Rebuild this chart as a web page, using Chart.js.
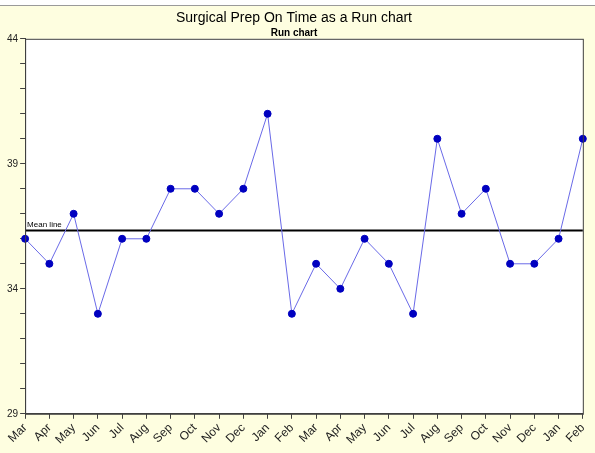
<!DOCTYPE html>
<html>
<head>
<meta charset="utf-8">
<script src="https://cdn.jsdelivr.net/npm/chart.js@4/dist/chart.umd.min.js"></script>
<style>
  html, body { margin: 0; padding: 0; background: #fff; }
  #wrap { width: 595px; height: 453px; }
</style>
</head>
<body>
<div id="wrap"><canvas id="runChart" width="595" height="453"></canvas></div>
<script>
const months = ['Mar', 'Apr', 'May', 'Jun', 'Jul', 'Aug', 'Sep', 'Oct', 'Nov', 'Dec', 'Jan', 'Feb',
  'Mar', 'Apr', 'May', 'Jun', 'Jul', 'Aug', 'Sep', 'Oct', 'Nov', 'Dec', 'Jan', 'Feb'];
const onTime = [36, 35, 37, 33, 36, 36, 38, 38, 37, 38, 41, 33,
  35, 34, 36, 35, 33, 40, 37, 38, 35, 35, 36, 40];
const yLabels = [29, 34, 39, 44];

const mean = onTime.reduce((a, b) => a + b, 0) / onTime.length;
const meanLine = onTime.map(() => mean);

// yellow page background, white plot area, grey frame
const frame = {
  id: 'frame',
  beforeDraw(chart) {
    const { ctx, chartArea: a, width, height } = chart;
    ctx.save();
    ctx.fillStyle = '#ffffff';
    ctx.fillRect(0, 0, width, 5);
    ctx.fillStyle = '#fefee0';
    ctx.fillRect(0, 6, width, height - 6);
    ctx.fillStyle = '#9a9a9a';
    ctx.fillRect(0, 5, width, 1);
    ctx.fillStyle = '#ffffff';
    ctx.fillRect(a.left, a.top, a.right - a.left, a.bottom - a.top);
    ctx.restore();
  },
  afterDatasetsDraw(chart) {
    const { ctx, chartArea: a, scales } = chart;
    ctx.save();
    ctx.strokeStyle = '#404040';
    ctx.lineWidth = 1;
    ctx.strokeRect(a.left + 0.5, a.top + 0.5, a.right - a.left, a.bottom - a.top);
    const y = scales.y.getPixelForValue(mean);
    ctx.fillStyle = '#000';
    ctx.font = '8px Arial';
    ctx.textBaseline = 'bottom';
    ctx.fillText('Mean line', a.left + 2, y - 2);
    ctx.restore();
  }
};

new Chart(document.getElementById('runChart'), {
  type: 'line',
  data: {
    labels: months,
    datasets: [{
      label: 'Surgical Prep On Time',
      data: onTime,
      borderColor: '#6a6ae8',
      borderWidth: 1,
      pointBackgroundColor: '#0000c0',
      pointBorderColor: '#0000c0',
      pointRadius: 3.5,
      tension: 0,
      order: 1
    }, {
      label: 'Mean line',
      data: meanLine,
      borderColor: '#000',
      borderWidth: 2,
      pointRadius: 0,
      order: 2
    }]
  },
  options: {
    responsive: false,
    animation: false,
    layout: { padding: { left: 5, right: 12, top: 0, bottom: 4 } },
    plugins: {
      legend: { display: false },
      tooltip: { enabled: false },
      title: {
        display: true,
        text: 'Surgical Prep On Time as a Run chart',
        color: '#000',
        font: { family: 'Arial', size: 14, weight: 'normal' },
        padding: { top: 10, bottom: 0 }
      },
      subtitle: {
        display: true,
        text: 'Run chart',
        color: '#000',
        font: { family: 'Arial', size: 10, weight: 'bold' },
        padding: { top: 0, bottom: 0 }
      }
    },
    scales: {
      x: {
        offset: false,
        grid: { drawOnChartArea: false, tickLength: 5, color: '#404040' },
        border: { color: '#404040' },
        ticks: {
          color: '#222',
          font: { family: 'Arial', size: 12 },
          minRotation: 45,
          maxRotation: 45,
          autoSkip: false,
          padding: 2
        }
      },
      y: {
        min: 29,
        max: 44,
        grid: { drawOnChartArea: false, tickLength: 5, color: '#404040' },
        border: { color: '#404040' },
        ticks: {
          stepSize: 1,
          color: '#222',
          font: { family: 'Arial', size: 10 },
          padding: 2,
          callback: v => yLabels.includes(v) ? String(v) : ''
        }
      }
    }
  },
  plugins: [frame]
});
</script>
</body>
</html>
